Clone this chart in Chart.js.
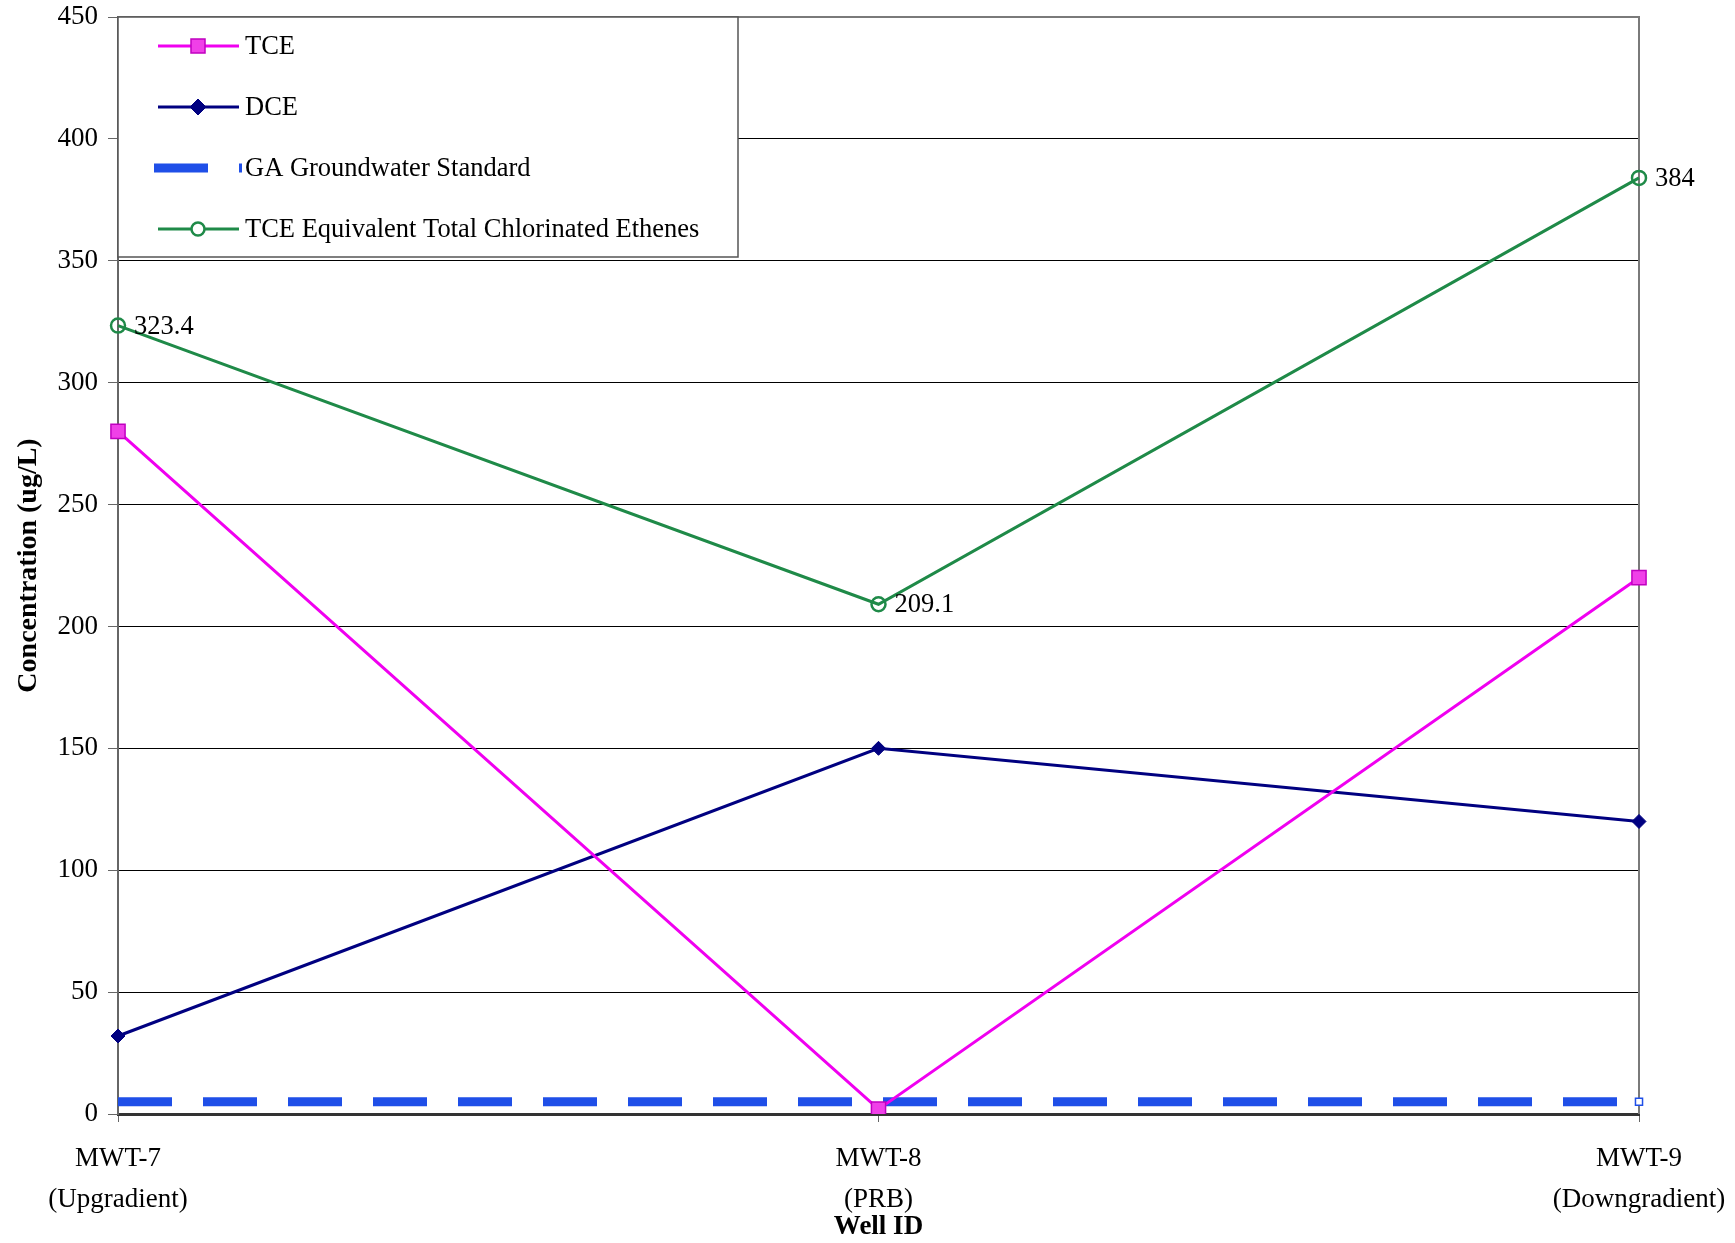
<!DOCTYPE html>
<html>
<head>
<meta charset="utf-8">
<script src="https://cdn.jsdelivr.net/npm/chart.js@4/dist/chart.umd.min.js"></script>
<style>
  body { margin: 0; background: #fff; }
  #wrap { width: 1735px; height: 1243px; }
</style>
</head>
<body>
<div id="wrap"><canvas id="myChart"></canvas></div>
<script>
// wells (x categories)
var wells = [['MWT-7', '(Upgradient)'], ['MWT-8', '(PRB)'], ['MWT-9', '(Downgradient)']];

// concentrations, ug/L
var tce = [280, 2, 220];
var dce = [32, 150, 120];
var gaStandard = [5, 5, 5];
var tceEquivalent = [323.4, 209.1, 384];

var yTicks = [0, 50, 100, 150, 200, 250, 300, 350, 400, 450];

var FONT = 'Liberation Serif, Times New Roman, serif';

// right / top frame of the plot
var framePlugin = {
  id: 'frame',
  beforeDatasetsDraw: function (chart) {
    var a = chart.chartArea, c = chart.ctx;
    c.save();
    c.strokeStyle = '#7a7a7a';
    c.lineWidth = 2;
    c.beginPath();
    c.moveTo(a.left, a.top);
    c.lineTo(a.right, a.top);
    c.lineTo(a.right, a.bottom);
    c.stroke();
    c.restore();
  }
};

// numbers next to the green series
var valueLabels = {
  id: 'valueLabels',
  afterDatasetsDraw: function (chart) {
    var c = chart.ctx;
    var meta = chart.getDatasetMeta(3);
    c.save();
    c.font = '26.5px ' + FONT;
    c.fillStyle = '#000';
    c.textAlign = 'left';
    c.textBaseline = 'middle';
    meta.data.forEach(function (pt, i) {
      c.fillText(String(tceEquivalent[i]), pt.x + 16, pt.y + 1);
    });
    c.restore();
  }
};

// boxed legend inside the plot, top-left
var boxLegend = {
  id: 'boxLegend',
  afterDraw: function (chart) {
    var c = chart.ctx, a = chart.chartArea;
    var x0 = a.left, y0 = a.top, w = 620, h = 240;
    c.save();
    c.fillStyle = '#fff';
    c.fillRect(x0, y0, w, h);
    c.strokeStyle = '#555';
    c.lineWidth = 1.5;
    c.strokeRect(x0, y0, w, h);
    chart.data.datasets.forEach(function (ds, i) {
      var y = y0 + 29 + i * 61;
      var mx = x0 + 80;
      c.strokeStyle = ds.borderColor;
      c.lineWidth = ds.borderWidth;
      c.setLineDash(ds.borderDash || []);
      c.lineCap = 'butt';
      c.beginPath();
      if (ds.borderDash) {
        c.moveTo(x0 + 36, y);
        c.lineTo(x0 + 124, y);
      } else {
        c.moveTo(x0 + 40, y);
        c.lineTo(x0 + 121, y);
      }
      c.stroke();
      c.setLineDash([]);
      if (ds.legendMarker) {
        c.fillStyle = ds.pointStyle === 'circle' ? '#fff' : ds.pointBackgroundColor;
        c.strokeStyle = ds.pointBorderColor;
        c.lineWidth = ds.pointBorderWidth;
        c.beginPath();
        if (ds.pointStyle === 'rect') {
          c.rect(mx - 7, y - 7, 14, 14);
        } else if (ds.pointStyle === 'rectRot') {
          var r = 8;
          c.moveTo(mx, y - r); c.lineTo(mx + r, y); c.lineTo(mx, y + r); c.lineTo(mx - r, y); c.closePath();
        } else {
          c.arc(mx, y, 6.5, 0, Math.PI * 2);
        }
        c.fill();
        c.stroke();
      }
      c.fillStyle = '#000';
      c.font = '26.5px ' + FONT;
      c.textAlign = 'left';
      c.textBaseline = 'middle';
      c.fillText(ds.label, x0 + 127, y + 1);
    });
    c.restore();
  }
};

var ctx = document.getElementById('myChart');
var myChart = new Chart(ctx, {
  type: 'line',
  data: {
    labels: wells,
    datasets: [
      {
        label: 'TCE',
        data: tce,
        borderColor: '#f000f0',
        borderWidth: 3,
        pointStyle: 'rect',
        pointRadius: 10,
        pointBackgroundColor: '#f040e8',
        pointBorderColor: '#c000c0',
        pointBorderWidth: 1.5,
        legendMarker: true,
        tension: 0
      },
      {
        label: 'DCE',
        data: dce,
        borderColor: '#000080',
        borderWidth: 3,
        pointStyle: 'rectRot',
        pointRadius: 7,
        pointBackgroundColor: '#000080',
        pointBorderColor: '#000080',
        pointBorderWidth: 1,
        legendMarker: true,
        tension: 0
      },
      {
        label: 'GA Groundwater Standard',
        data: gaStandard,
        borderColor: '#1f4fe8',
        borderWidth: 9,
        borderDash: [54, 31],
        borderCapStyle: 'butt',
        pointStyle: 'rect',
        pointRadius: [0, 0, 5],
        pointBackgroundColor: '#ffffff',
        pointBorderColor: '#1f4fe8',
        pointBorderWidth: 1.5,
        legendMarker: false,
        tension: 0
      },
      {
        label: 'TCE Equivalent Total Chlorinated Ethenes',
        data: tceEquivalent,
        borderColor: '#1f8a48',
        borderWidth: 3,
        pointStyle: 'circle',
        pointRadius: 7,
        pointBackgroundColor: 'rgba(255,255,255,0)',
        pointBorderColor: '#1f8a48',
        pointBorderWidth: 2.5,
        legendMarker: true,
        tension: 0
      }
    ]
  },
  options: {
    responsive: true,
    maintainAspectRatio: false,
    animation: false,
    layout: { padding: { top: 17, right: 96, left: 0, bottom: 0 } },
    plugins: {
      legend: { display: false },
      tooltip: { enabled: false }
    },
    scales: {
      x: {
        type: 'category',
        offset: false,
        grid: { drawOnChartArea: false, drawTicks: true, tickLength: 8, color: '#666' },
        border: { display: true, color: '#333', width: 3 },
        ticks: {
          color: '#000',
          font: { family: FONT, size: 27, lineHeight: 1.52 },
          padding: 16,
          maxRotation: 0,
          autoSkip: false
        },
        title: {
          display: true,
          text: 'Well ID',
          color: '#000',
          font: { family: FONT, size: 27, weight: 'bold' },
          padding: { top: 0, bottom: 0 }
        },
        afterFit: function (scale) {
          scale.height = 129;
          scale.paddingLeft = 0;
          scale.paddingRight = 0;
        }
      },
      y: {
        min: 0,
        max: 450,
        afterBuildTicks: function (scale) {
          scale.ticks = yTicks.map(function (v) { return { value: v }; });
        },
        grid: { color: '#000', lineWidth: 1, tickLength: 10, tickColor: '#666' },
        border: { display: true, color: '#666', width: 2 },
        ticks: {
          color: '#000',
          font: { family: FONT, size: 27 },
          padding: 10
        },
        title: {
          display: true,
          text: 'Concentration (ug/L)',
          color: '#000',
          font: { family: FONT, size: 28, weight: 'bold' },
          padding: { top: 12, bottom: 0 }
        },
        afterFit: function (scale) {
          scale.width = 118;
          scale.paddingTop = 0;
          scale.paddingBottom = 0;
        }
      }
    }
  },
  plugins: [framePlugin, valueLabels, boxLegend]
});
</script>
</body>
</html>
